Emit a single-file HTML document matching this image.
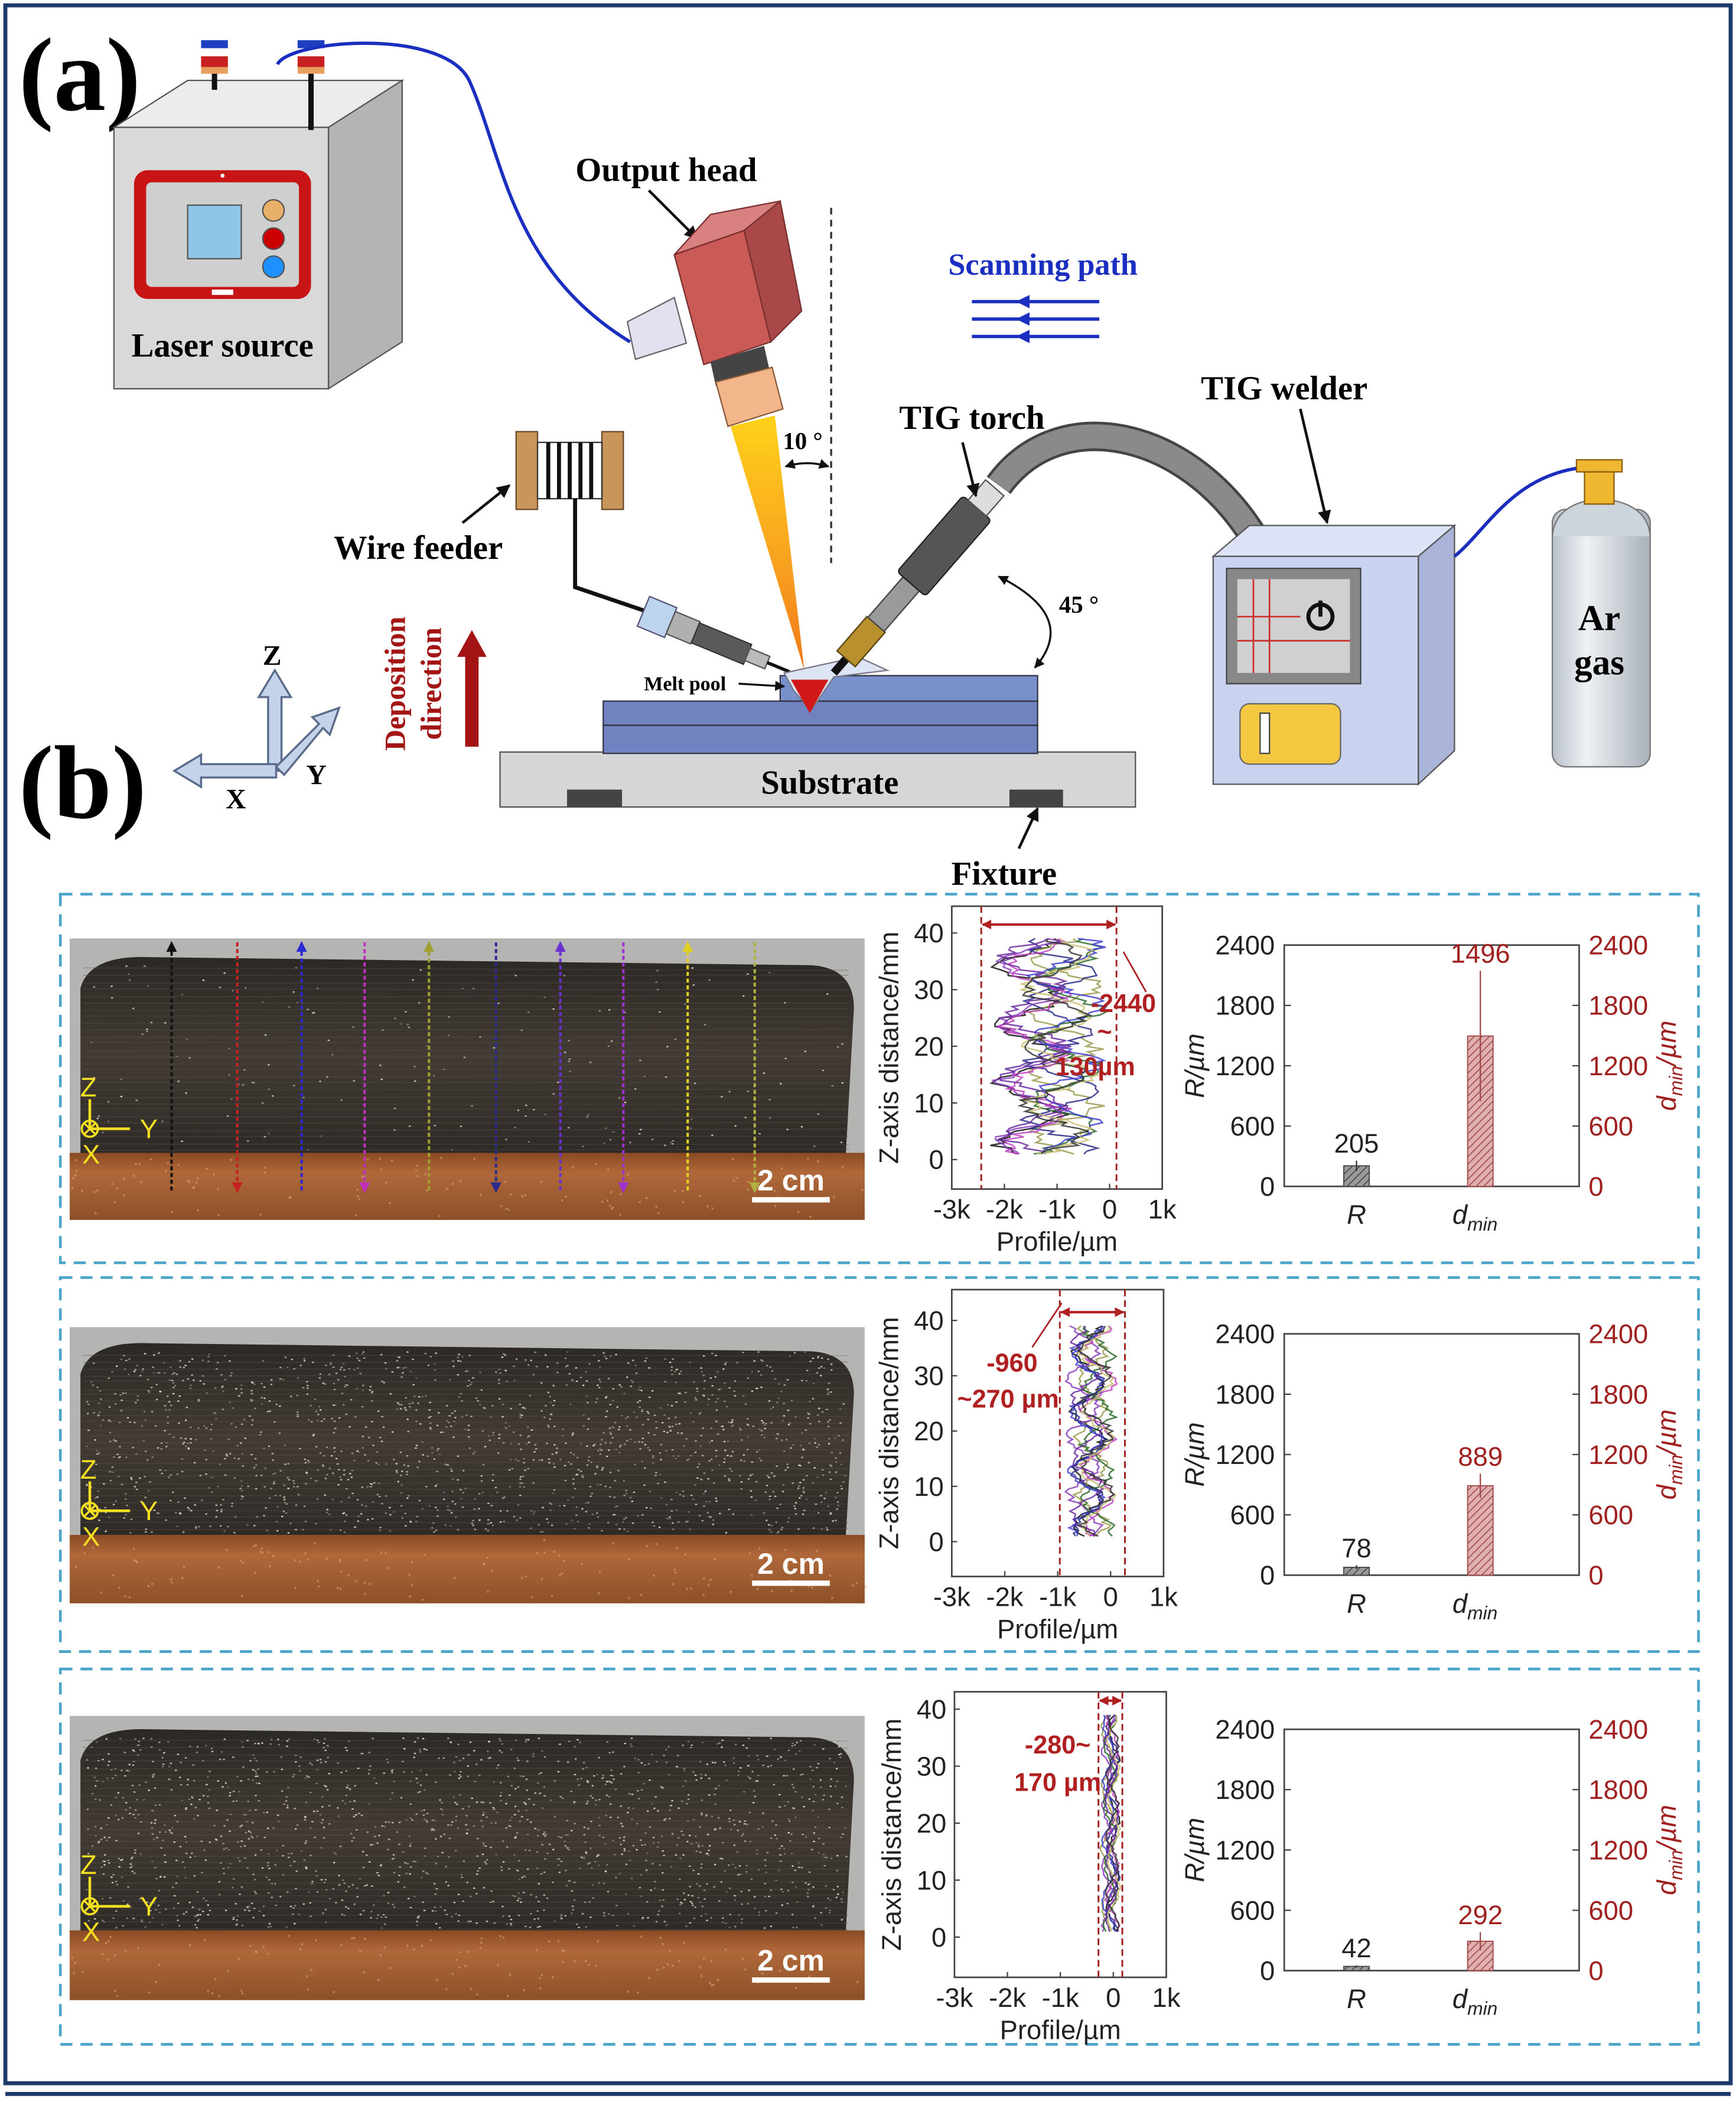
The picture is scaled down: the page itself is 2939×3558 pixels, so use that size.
<!DOCTYPE html>
<html><head><meta charset="utf-8">
<style>
html,body{margin:0;padding:0;background:#fff;}
svg{display:block;}
.sb{font-family:"Liberation Serif",serif;font-weight:bold;}
.ss{font-family:"Liberation Sans",sans-serif;}
</style></head>
<body>
<svg id="s" xmlns="http://www.w3.org/2000/svg" width="2939" height="3558" viewBox="0 0 1295 1568" preserveAspectRatio="none">
<defs>
<linearGradient id="cone" x1="0" y1="0" x2="0" y2="1"><stop offset="0" stop-color="#ffd21a"/><stop offset="0.6" stop-color="#f8a020"/><stop offset="1" stop-color="#f07818"/></linearGradient>
<linearGradient id="cyl" x1="0" y1="0" x2="1" y2="0"><stop offset="0" stop-color="#b8c0c8"/><stop offset="0.35" stop-color="#eef2f5"/><stop offset="1" stop-color="#a8b0b8"/></linearGradient>
<linearGradient id="base" x1="0" y1="0" x2="0" y2="1"><stop offset="0" stop-color="#8a4a22"/><stop offset="0.3" stop-color="#b0683a"/><stop offset="1" stop-color="#8c5028"/></linearGradient>
<linearGradient id="blk" x1="0" y1="0" x2="0" y2="1"><stop offset="0" stop-color="#2c2824"/><stop offset="0.5" stop-color="#423b34"/><stop offset="1" stop-color="#2e2a26"/></linearGradient>
<pattern id="hg" width="4" height="4" patternUnits="userSpaceOnUse" patternTransform="rotate(45)"><rect width="4" height="4" fill="#9a9a9a"/><line x1="0" y1="0" x2="0" y2="4" stroke="#444" stroke-width="1.4"/></pattern>
<pattern id="hr" width="4" height="4" patternUnits="userSpaceOnUse" patternTransform="rotate(45)"><rect width="4" height="4" fill="#e0b0b0"/><line x1="0" y1="0" x2="0" y2="4" stroke="#a04848" stroke-width="1.4"/></pattern>
<marker id="ak" viewBox="0 0 10 10" refX="9" refY="5" markerWidth="5" markerHeight="5" orient="auto-start-reverse"><path d="M0,0 L10,5 L0,10 z" fill="#111"/></marker>
<marker id="ab" viewBox="0 0 10 10" refX="5" refY="5" markerWidth="5" markerHeight="5" orient="auto"><path d="M10,0 L0,5 L10,10 z" fill="#1a2fbf"/></marker>
<marker id="ar" viewBox="0 0 10 10" refX="9" refY="5" markerWidth="4" markerHeight="4" orient="auto-start-reverse"><path d="M0,0 L10,5 L0,10 z" fill="#b02020"/></marker>
</defs>
<rect width="1295" height="1568" fill="#fff"/>
<rect x="4" y="4" width="1287" height="1550" fill="none" stroke="#1d3b6a" stroke-width="3"/>
<line x1="4" y1="1562" x2="1291" y2="1562" stroke="#1d3b6a" stroke-width="3"/>

<text x="14" y="82" class="sb" font-size="78">(a)</text>
<text x="14" y="610" class="sb" font-size="78">(b)</text>

<polygon points="85,95 245,95 300,60 140,60" fill="#ececec" stroke="#555"/>
<polygon points="245,95 300,60 300,255 245,290" fill="#b4b4b4" stroke="#555"/>
<rect x="85" y="95" width="160" height="195" fill="#d9d9d9" stroke="#555"/>
<rect x="100" y="127" width="132" height="96" rx="10" fill="#c81414"/>
<rect x="109" y="136" width="114" height="78" rx="4" fill="#cfcfcf"/>
<rect x="140" y="153" width="40" height="40" fill="#8fc6e8" stroke="#555"/>
<circle cx="204" cy="157" r="8" fill="#e8b068" stroke="#555"/>
<circle cx="204" cy="178" r="8" fill="#c00" stroke="#555"/>
<circle cx="204" cy="199" r="8" fill="#1e90ff" stroke="#555"/>
<rect x="158" y="216" width="16" height="4" fill="#fff"/>
<circle cx="166" cy="131" r="1.5" fill="#fff"/>
<g>
<rect x="150" y="30" width="20" height="6" fill="#1e3fbf"/><rect x="150" y="36" width="20" height="6" fill="#fff"/><rect x="150" y="42" width="20" height="8" fill="#c82020"/><rect x="150" y="50" width="20" height="5" fill="#e8a060"/>
<rect x="158" y="55" width="4" height="12" fill="#111"/>
<rect x="222" y="30" width="20" height="6" fill="#1e3fbf"/><rect x="222" y="36" width="20" height="6" fill="#fff"/><rect x="222" y="42" width="20" height="8" fill="#c82020"/><rect x="222" y="50" width="20" height="5" fill="#e8a060"/>
<rect x="230" y="55" width="4" height="42" fill="#111"/>
</g>
<text x="166" y="266" text-anchor="middle" class="sb" font-size="25">Laser source</text>
<path d="M207,48 C215,30 330,20 350,60 C375,115 380,200 470,255" fill="none" stroke="#1a2fbf" stroke-width="2.5"/>

<text x="497" y="135" text-anchor="middle" class="sb" font-size="25">Output head</text>
<line x1="484" y1="142" x2="520" y2="178" stroke="#111" stroke-width="2" marker-end="url(#ak)"/>
<polygon points="545,318 578,310 600,500" fill="url(#cone)"/>
<polygon points="468,240 503,222 512,256 474,268" fill="#e4e0f0" stroke="#666"/>
<polygon points="503,190 530,160 582,150 555,172" fill="#d98080" stroke="#7a3030"/>
<polygon points="555,172 582,150 598,232 575,255" fill="#a84848" stroke="#7a3030"/>
<polygon points="503,190 555,172 575,255 525,272" fill="#c95a55" stroke="#7a3030"/>
<polygon points="530,270 570,258 574,276 534,288" fill="#444"/>
<polygon points="534,285 576,274 584,305 543,318" fill="#f3b58a" stroke="#8a5a3a"/>
<line x1="620" y1="155" x2="620" y2="420" stroke="#333" stroke-width="1.5" stroke-dasharray="5,4"/>
<text x="584" y="335" class="sb" font-size="18">10 °</text>
<path d="M586,348 Q602,343 618,348" fill="none" stroke="#111" stroke-width="1.5" marker-start="url(#ak)" marker-end="url(#ak)"/>

<text x="778" y="205" text-anchor="middle" class="sb" font-size="23" fill="#1a2fbf">Scanning path</text>
<g stroke="#1a2fbf" stroke-width="2.5">
<line x1="725" y1="225" x2="820" y2="225"/>
<line x1="725" y1="238" x2="820" y2="238"/>
<line x1="725" y1="251" x2="820" y2="251"/>
</g>
<g fill="#1a2fbf"><path d="M768,220 L758,225 L768,230z"/><path d="M768,233 L758,238 L768,243z"/><path d="M768,246 L758,251 L768,256z"/></g>

<rect x="385" y="322" width="16" height="58" fill="#c8955a" stroke="#6a4a2a"/>
<rect x="449" y="322" width="16" height="58" fill="#c8955a" stroke="#6a4a2a"/>
<rect x="401" y="330" width="48" height="42" fill="#fff" stroke="#333"/>
<g stroke="#111" stroke-width="3"><line x1="409" y1="330" x2="409" y2="372"/><line x1="417" y1="330" x2="417" y2="372"/><line x1="425" y1="330" x2="425" y2="372"/><line x1="433" y1="330" x2="433" y2="372"/><line x1="441" y1="330" x2="441" y2="372"/></g>
<polyline points="429,372 429,438 482,456" fill="none" stroke="#111" stroke-width="3"/>
<text x="312" y="417" text-anchor="middle" class="sb" font-size="25">Wire feeder</text>
<line x1="345" y1="390" x2="380" y2="362" stroke="#111" stroke-width="2" marker-end="url(#ak)"/>
<g transform="translate(480,456) rotate(22.5)">
<rect x="0" y="-12" width="22" height="24" fill="#bcd4ee" stroke="#557"/>
<rect x="22" y="-9" width="20" height="18" fill="#b0b0b0" stroke="#555"/>
<rect x="42" y="-8" width="42" height="16" fill="#5a5a5a" stroke="#333"/>
<rect x="84" y="-5" width="16" height="10" fill="#bbb" stroke="#555"/>
<line x1="100" y1="0" x2="118" y2="0" stroke="#111" stroke-width="2.5"/>
</g>

<rect x="373" y="561" width="474" height="41" fill="#d6d6d6" stroke="#555"/>
<rect x="423" y="589" width="41" height="13" fill="#444"/>
<rect x="753" y="589" width="40" height="13" fill="#444"/>
<text x="619" y="592" text-anchor="middle" class="sb" font-size="25">Substrate</text>
<rect x="450" y="541" width="324" height="21" fill="#7082c0" stroke="#334"/>
<rect x="450" y="523" width="324" height="18" fill="#7082c0" stroke="#334"/>
<rect x="582" y="504" width="192" height="19" fill="#7890cc" stroke="#334"/>
<polygon points="585,502 640,490 662,500 622,505 605,530 592,515" fill="#dde4f4" stroke="#778"/>
<polygon points="590,507 618,507 604,532" fill="#d01818"/>
<text x="511" y="515" text-anchor="middle" class="sb" font-size="15">Melt pool</text>
<line x1="551" y1="510" x2="585" y2="512" stroke="#111" stroke-width="1.5" marker-end="url(#ak)"/>

<path d="M745,362 C790,300 885,320 935,400" fill="none" stroke="#444" stroke-width="22"/>
<path d="M745,362 C790,300 885,320 935,400" fill="none" stroke="#8a8a8a" stroke-width="18"/>
<g transform="translate(622,502) rotate(-49)">
<rect x="0" y="-3" width="14" height="6" fill="#111"/>
<rect x="14" y="-9" width="34" height="18" fill="#b8902e" stroke="#5a4510"/>
<rect x="48" y="-8" width="40" height="16" fill="#9a9a9a" stroke="#444"/>
<rect x="88" y="-14" width="75" height="28" rx="3" fill="#555" stroke="#222"/>
<rect x="163" y="-9" width="20" height="18" fill="#ddd" stroke="#555"/>
</g>
<text x="725" y="320" text-anchor="middle" class="sb" font-size="25">TIG torch</text>
<line x1="718" y1="330" x2="728" y2="370" stroke="#111" stroke-width="2" marker-end="url(#ak)"/>
<text x="790" y="457" class="sb" font-size="18">45 °</text>
<path d="M772,498 Q805,460 745,430" fill="none" stroke="#111" stroke-width="1.5" marker-start="url(#ak)" marker-end="url(#ak)"/>

<text x="958" y="298" text-anchor="middle" class="sb" font-size="25">TIG welder</text>
<line x1="970" y1="305" x2="990" y2="390" stroke="#111" stroke-width="2" marker-end="url(#ak)"/>
<polygon points="905,415 932,392 1085,392 1058,415" fill="#dde3f7" stroke="#555"/>
<polygon points="1058,415 1085,392 1085,560 1058,585" fill="#aab4d8" stroke="#555"/>
<rect x="905" y="415" width="153" height="170" fill="#c9d3f0" stroke="#555"/>
<rect x="915" y="424" width="100" height="86" fill="#888" stroke="#444"/>
<rect x="923" y="432" width="84" height="70" fill="#d0d0d0"/>
<g stroke="#c83030" stroke-width="1.2"><line x1="935" y1="432" x2="935" y2="502"/><line x1="947" y1="432" x2="947" y2="502"/><line x1="923" y1="460" x2="970" y2="460"/><line x1="923" y1="478" x2="1007" y2="478"/></g>
<circle cx="985" cy="460" r="9" fill="none" stroke="#111" stroke-width="3"/>
<line x1="985" y1="448" x2="985" y2="460" stroke="#111" stroke-width="3"/>
<rect x="925" y="525" width="75" height="45" rx="7" fill="#f5c842" stroke="#666"/>
<rect x="940" y="532" width="7" height="30" fill="#fff" stroke="#444"/>
<path d="M1085,415 C1110,395 1130,350 1190,348" fill="none" stroke="#1a2fbf" stroke-width="2.5"/>
<rect x="1158" y="380" width="73" height="192" rx="10" fill="url(#cyl)" stroke="#777"/>
<path d="M1158,400 Q1160,375 1194,372 Q1229,375 1231,400" fill="#cdd5dc" stroke="#777"/>
<rect x="1182" y="352" width="22" height="24" fill="#f0b830" stroke="#8a6010"/>
<rect x="1176" y="343" width="34" height="9" fill="#f0b830" stroke="#8a6010"/>
<text x="1193" y="470" text-anchor="middle" class="sb" font-size="27">Ar</text>
<text x="1193" y="503" text-anchor="middle" class="sb" font-size="27">gas</text>

<g stroke="#5a6a8a" stroke-width="1.5" fill="#c4d2ea">
<polygon points="200,575 200,520 193,520 205,500 217,520 210,520 210,575"/>
<polygon points="206,572 238,540 233,535 253,528 246,548 241,543 212,578"/>
<polygon points="206,570 150,570 150,563 130,575 150,587 150,580 206,580"/>
</g>
<text x="203" y="496" text-anchor="middle" class="sb" font-size="21">Z</text>
<text x="236" y="585" text-anchor="middle" class="sb" font-size="21">Y</text>
<text x="176" y="603" text-anchor="middle" class="sb" font-size="21">X</text>
<g transform="translate(302,510) rotate(-90)" fill="#a31515" class="sb" font-size="22">
<text x="0" y="0" text-anchor="middle">Deposition</text>
<text x="0" y="27" text-anchor="middle">direction</text>
</g>
<polygon points="347,557 347,490 341,490 352,470 363,490 357,490 357,557" fill="#a31515"/>

<text x="749" y="660" text-anchor="middle" class="sb" font-size="25">Fixture</text>
<line x1="760" y1="633" x2="774" y2="603" stroke="#111" stroke-width="2" marker-end="url(#ak)"/>

<g fill="none" stroke="#4aa3c8" stroke-width="2" stroke-dasharray="9,6">
<rect x="45" y="667" width="1222" height="275"/>
<rect x="45" y="953" width="1222" height="279"/>
<rect x="45" y="1245" width="1222" height="280"/>
</g>
<g id="dyn"></g>
</svg>
<script>
(function(){
var NS="http://www.w3.org/2000/svg",g=document.getElementById("dyn");
function el(t,a,txt,p){var e=document.createElementNS(NS,t);for(var k in a)e.setAttribute(k,a[k]);if(txt!=null)e.textContent=txt;(p||g).appendChild(e);return e;}
var seed=7;function rnd(){seed=(seed*16807)%2147483647;return seed/2147483647;}
var F="Liberation Sans";
function photo(x0,y0,x1,y1,topY,baseY,speck,arrows){
 el("rect",{x:x0,y:y0,width:x1-x0,height:y1-y0,fill:"#b4b4b2"});
 el("rect",{x:x0,y:baseY,width:x1-x0,height:y1-baseY,fill:"url(#base)"});
 var d="M"+(x0+8)+","+baseY+" L"+(x0+8)+","+(topY+25)+" Q"+(x0+15)+","+topY+" "+(x0+60)+","+(topY+2)+" L"+(x1-40)+","+(topY+8)+" Q"+(x1-8)+","+(topY+10)+" "+(x1-8)+","+(topY+40)+" L"+(x1-14)+","+baseY+" Z";
 el("path",{d:d,fill:"url(#blk)"});
 for(var y=topY+10;y<baseY;y+=5){el("line",{x1:x0+10,y1:y+rnd()*2,x2:x1-12,y2:y+rnd()*2,stroke:"#5a544e","stroke-width":0.8,opacity:0.35});}
 for(var i=0;i<speck;i++){var sx=x0+12+rnd()*(x1-x0-26),sy=topY+8+rnd()*(baseY-topY-10);el("rect",{x:sx,y:sy,width:1.5,height:1,fill:"#e8e4dc",opacity:0.3+rnd()*0.6});}
 for(var i=0;i<120;i++){el("rect",{x:x0+rnd()*(x1-x0),y:baseY+3+rnd()*(y1-baseY-6),width:1.5,height:1.5,fill:"#d8a070",opacity:0.6});}
 if(arrows){for(var j=0;j<arrows.length;j++){var a=arrows[j];
  el("line",{x1:a[0],y1:(a[2]?y1-22:y0+3),x2:a[0],y2:(a[2]?y0+5:y1-22),stroke:a[1],"stroke-width":1.8,"stroke-dasharray":"3,2"});
  var ty=a[2]?y0+2:y1-20,dir=a[2]?1:-1;
  el("path",{d:"M"+(a[0]-4)+","+(ty+dir*8)+" L"+a[0]+","+ty+" L"+(a[0]+4)+","+(ty+dir*8)+"Z",fill:a[1]});}}
 var ax=x0+15,ay=baseY-18;
 el("line",{x1:ax,y1:ay,x2:ax,y2:ay-22,stroke:"#f4e020","stroke-width":2});
 el("line",{x1:ax,y1:ay,x2:ax+30,y2:ay,stroke:"#f4e020","stroke-width":2});
 el("circle",{cx:ax,cy:ay,r:6,fill:"none",stroke:"#f4e020","stroke-width":1.6});
 el("path",{d:"M"+(ax-4)+","+(ay-4)+" L"+(ax+4)+","+(ay+4)+" M"+(ax+4)+","+(ay-4)+" L"+(ax-4)+","+(ay+4),stroke:"#f4e020","stroke-width":1.5});
 el("text",{x:ax-1,y:ay-24,"text-anchor":"middle","font-family":F,"font-size":20,fill:"#f4e020"},"Z");
 el("text",{x:ax+44,y:ay+7,"text-anchor":"middle","font-family":F,"font-size":20,fill:"#f4e020"},"Y");
 el("text",{x:ax+1,y:ay+26,"text-anchor":"middle","font-family":F,"font-size":20,fill:"#f4e020"},"X");
 el("text",{x:x1-55,y:y1-22,"text-anchor":"middle","font-family":F,"font-size":22,"font-weight":"bold",fill:"#fff"},"2 cm");
 el("rect",{x:x1-84,y:y1-17,width:58,height:4,fill:"#fff"});
}
photo(52,700,645,910,712,860,200,[[128,"#111",1],[177,"#c82020",0],[225,"#2a2ad0",1],[272,"#c030c0",0],[320,"#a0a030",1],[370,"#2a2a90",0],[418,"#6a30d0",1],[465,"#a030d0",0],[513,"#e0d020",1],[563,"#b0b040",0]]);
photo(52,990,645,1196,1000,1145,1600,null);
photo(52,1280,645,1492,1288,1440,1600,null);

var cols=["#111","#9a9a50","#2b2b8a","#8a3fc0","#c040c0","#2a6a2a","#4040d0","#6a2aa0","#c8c070","#333"];
function prof(x0,x1,y0,y1,yz,y40,lo,hi,ann){
 function X(v){return x0+(v+3000)/4000*(x1-x0);}
 function Y(v){return yz+(y40-yz)*v/40;}
 el("rect",{x:x0,y:y0,width:x1-x0,height:y1-y0,fill:"#fff",stroke:"#444","stroke-width":1.2});
 var mid=(lo+hi)/2,amp=(hi-lo)/2;
 for(var c=0;c<10;c++){var pts=[];var off=(rnd()-0.5)*amp*0.6,ph=rnd()*6;
  for(var z=0;z<=38;z+=0.5){var v=mid+off+Math.sin(z*0.6+ph)*amp*0.45+(rnd()-0.5)*amp*0.3;if(v<lo)v=lo;if(v>hi)v=hi;pts.push(X(v).toFixed(1)+","+Y(z+1).toFixed(1));}
  el("polyline",{points:pts.join(" "),fill:"none",stroke:cols[c],"stroke-width":1.1,opacity:0.85});}
 el("line",{x1:X(lo),y1:y0,x2:X(lo),y2:y1,stroke:"#a02020","stroke-width":1.3,"stroke-dasharray":"5,3"});
 el("line",{x1:X(hi),y1:y0,x2:X(hi),y2:y1,stroke:"#a02020","stroke-width":1.3,"stroke-dasharray":"5,3"});
 var ay=Y(41.5);
 el("line",{x1:X(lo)+1,y1:ay,x2:X(hi)-1,y2:ay,stroke:"#b02020","stroke-width":1.8,"marker-start":"url(#ar)","marker-end":"url(#ar)"});
 var ticks=[[-3000,"-3k"],[-2000,"-2k"],[-1000,"-1k"],[0,"0"],[1000,"1k"]];
 for(var i=0;i<ticks.length;i++){var tx=X(ticks[i][0]);el("line",{x1:tx,y1:y1,x2:tx,y2:y1-4,stroke:"#444"});
  el("text",{x:tx,y:y1+22,"text-anchor":"middle","font-family":F,"font-size":20,fill:"#222"},ticks[i][1]);}
 for(var v=0;v<=40;v+=10){el("line",{x1:x0,y1:Y(v),x2:x0+4,y2:Y(v),stroke:"#444"});
  el("text",{x:x0-6,y:Y(v)+7,"text-anchor":"end","font-family":F,"font-size":20,fill:"#222"},String(v));}
 el("text",{x:(x0+x1)/2,y:y1+46,"text-anchor":"middle","font-family":F,"font-size":20,fill:"#222"},"Profile/µm");
 el("text",{x:0,y:0,"text-anchor":"middle","font-family":F,"font-size":20,fill:"#222",transform:"translate("+(x0-40)+","+((y0+y1)/2)+") rotate(-90)"},"Z-axis distance/mm");
 for(var i=0;i<ann.length;i++)el("text",{x:ann[i][0],y:ann[i][1],"text-anchor":"middle","font-family":F,"font-size":19,"font-weight":"bold",fill:"#b02020"},ann[i][2]);
}
prof(710,867,676,887,865,696,-2440,130,[[838,755,"-2440"],[824,776,"~"],[817,802,"130µm"]]);
el("line",{x1:838,y1:710,x2:855,y2:740,stroke:"#b02020","stroke-width":1.2});
prof(710,868,962,1176,1150,985,-960,270,[[755,1023,"-960"],[752,1050,"~270 µm"]]);
el("line",{x1:792,y1:972,x2:770,y2:1005,stroke:"#b02020","stroke-width":1.2});
prof(712,870,1262,1475,1445,1275,-280,170,[[789,1308,"-280~"],[789,1336,"170 µm"]]);

function bars(x0,x1,yt,yb,rv,dv,derr){
 function Y(v){return yb-(yb-yt)*v/2400;}
 el("rect",{x:x0,y:yt,width:x1-x0,height:yb-yt,fill:"#fff",stroke:"#444","stroke-width":1.2});
 for(var v=0;v<=2400;v+=600){var y=Y(v);
  el("line",{x1:x0,y1:y,x2:x0+5,y2:y,stroke:"#444"});el("line",{x1:x1,y1:y,x2:x1-5,y2:y,stroke:"#444"});
  el("text",{x:x0-7,y:y+7,"text-anchor":"end","font-family":F,"font-size":20,fill:"#222"},String(v));
  el("text",{x:x1+7,y:y+7,"text-anchor":"start","font-family":F,"font-size":20,fill:"#a02020"},String(v));}
 var rx=x0+(x1-x0)*0.245,dx=x0+(x1-x0)*0.665,w=19;
 el("rect",{x:rx-w/2,y:Y(rv),width:w,height:yb-Y(rv),fill:"url(#hg)",stroke:"#444","stroke-width":0.8});
 el("rect",{x:dx-w/2,y:Y(dv),width:w,height:yb-Y(dv),fill:"url(#hr)",stroke:"#a04848","stroke-width":0.8});
 el("line",{x1:rx,y1:Y(rv*1.25),x2:rx,y2:Y(rv*0.75),stroke:"#333"});
 el("line",{x1:dx,y1:Y(dv+derr),x2:dx,y2:Y(dv-derr),stroke:"#a04848"});
 el("text",{x:rx,y:Y(rv*1.25)-6,"text-anchor":"middle","font-family":F,"font-size":20,fill:"#222"},String(rv));
 el("text",{x:dx,y:Y(dv+derr)-6,"text-anchor":"middle","font-family":F,"font-size":20,fill:"#a02020"},String(dv));
 el("text",{x:rx,y:yb+28,"text-anchor":"middle","font-family":F,"font-size":20,"font-style":"italic",fill:"#222"},"R");
 var t=el("text",{x:dx-4,y:yb+28,"text-anchor":"middle","font-family":F,"font-size":20,"font-style":"italic",fill:"#222"},"d");
 el("tspan",{"font-size":14,dy:5},"min",t);
 el("text",{x:0,y:0,"text-anchor":"middle","font-family":F,"font-size":20,"font-style":"italic",fill:"#222",transform:"translate("+(x0-60)+","+((yt+yb)/2)+") rotate(-90)"},"R/µm");
 var t2=el("text",{x:0,y:0,"text-anchor":"middle","font-family":F,"font-size":20,"font-style":"italic",fill:"#a02020",transform:"translate("+(x1+72)+","+((yt+yb)/2)+") rotate(-90)"},"d");
 el("tspan",{"font-size":14,dy:5},"min",t2);el("tspan",{dy:-5},"/µm",t2);
}
bars(958,1178,705,885,205,1496,650);
bars(958,1178,995,1175,78,889,120);
bars(958,1178,1290,1470,42,292,90);
})();
</script>
</body></html>
